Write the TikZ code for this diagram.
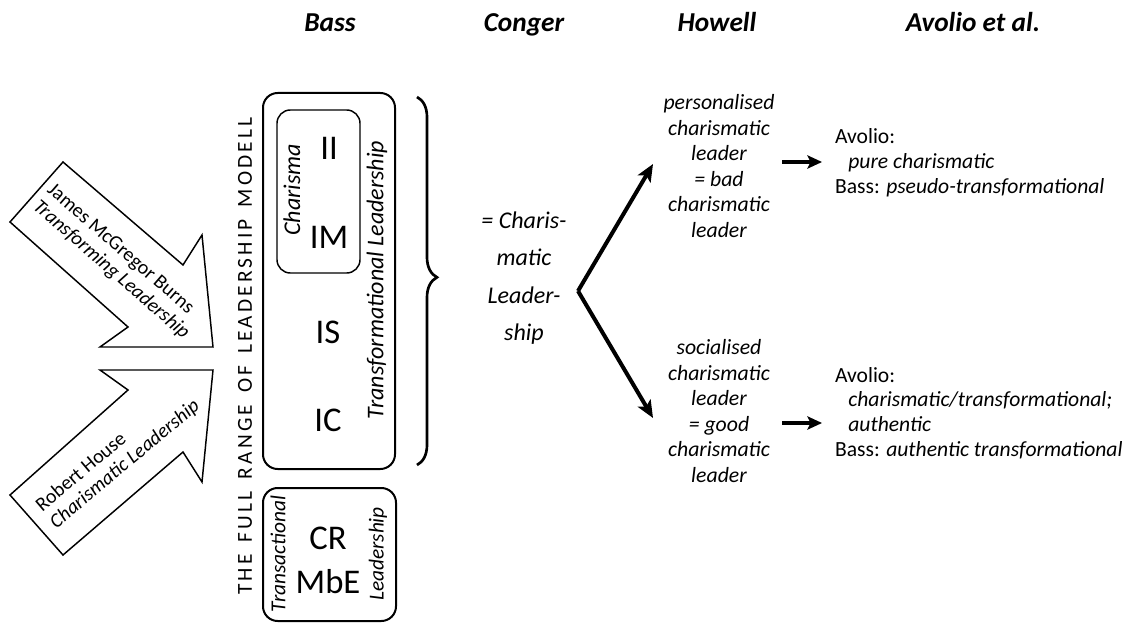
\documentclass[tikz,border=0pt]{standalone}
\usepackage{fontspec}
\setmainfont{Carlito}
\usetikzlibrary{arrows.meta,decorations.pathreplacing}
\begin{document}
\begin{tikzpicture}[x=0.75pt,y=-0.75pt,
  every node/.style={inner sep=0pt,outer sep=0pt},
  head/.style={font=\fontsize{20.5}{25}\selectfont\bfseries\itshape,anchor=base},
  bigl/.style={font=\fontsize{26}{30}\selectfont},
  rotl/.style={font=\fontsize{18}{20}\selectfont\itshape,rotate=90},
  rots/.style={font=\fontsize{16}{18}\selectfont\itshape,rotate=90},
  conger/.style={font=\fontsize{18}{28}\selectfont\itshape,align=center},
  howell/.style={font=\fontsize{16.3}{19.1}\selectfont\itshape,align=center},
  avolio/.style={font=\fontsize{16.2}{18.6}\selectfont,align=left},
  arrtxt/.style={font=\fontsize{15}{16.5}\selectfont,align=left},
  box/.style={draw,line width=1.5pt,rounded corners=11pt},
  innerbox/.style={draw,line width=1.1pt,rounded corners=10pt},
  blockarrow/.style={draw,line width=1.1pt,line join=miter},
  thickarrow/.style={line width=3pt,-{Stealth[length=13pt,width=11pt,inset=3pt]}},
  smallarrow/.style={line width=2.8pt,-{Stealth[length=11pt,width=10pt,inset=2.5pt]}},
  bracestyle/.style={line width=2pt,decorate,decoration={brace,amplitude=15pt,aspect=0.49}}
]
\useasboundingbox (0,0) rectangle (1127,623);

% headers
\node[head] (hBass) at (330,32) {Bass};
\node[head] (hConger) at (524,32) {Conger};
\node[head] (hHowell) at (717,32) {Howell};
\node[head] (hAvolio) at (973,32) {Avolio et al.};

% block arrows
\draw[blockarrow] (63,162) -- (183,265) -- (202,235) -- (213,347) -- (100,347) -- (128,327) -- (10,222) -- cycle;
\draw[blockarrow] (63,555) -- (183,452) -- (202,482) -- (213,370) -- (100,370) -- (128,390) -- (10,495) -- cycle;
\node[arrtxt,rotate=-41] (burns) at (118,262) {James McGregor Burns\\\textit{Transforming Leadership}};
\node[arrtxt,rotate=40] (house) at (118,456) {Robert House\\\textit{Charismatic Leadership}};

% title
\node[rotate=90,font={\fontsize{16}{16}\selectfont\addfontfeature{LetterSpace=15}}] (title) at (245,356)
  {THE\hspace{3pt} FULL\hspace{3pt} RANGE\hspace{3pt} OF\hspace{3pt} LEADERSHIP\hspace{3pt} MODELL};

% Bass boxes
\draw[box] (263,93) rectangle (395,469);
\draw[innerbox] (277,110) rectangle (360,273);
\draw[box] (263,488) rectangle (396,621);
\node[bigl] (II) at (329,148) {II};
\node[bigl] (IM) at (329,237) {IM};
\node[bigl] (IS) at (328,332) {IS};
\node[bigl] (IC) at (328,420) {IC};
\node[bigl] (CR) at (328,538) {CR};
\node[bigl] (MbE) at (328,582) {MbE};
\node[rotl] (charisma) at (292,190) {Charisma};
\node[rotl] (transf) at (377,280) {Transformational Leadership};
\node[rots] (transa) at (278,554) {Transactional};
\node[rots] (lead) at (378,554) {Leadership};

% brace
\coordinate (bt) at (417,97);
\coordinate (bb) at (417,465);
\draw[bracestyle] (bt) -- (bb);

% Conger
\node[conger] (cl) at (524,278) {= Charis-\\matic\\Leader-\\ship};

% Howell
\coordinate (v) at (578,291);
\coordinate (tu) at (653,164);
\coordinate (tl) at (653,418);
\draw[thickarrow] (v) -- (tu);
\draw[thickarrow] (v) -- (tl);
\node[howell] (pers) at (719,166) {personalised\\charismatic\\leader\\= bad\\charismatic\\leader};
\node[howell] (soc) at (719,411) {socialised\\charismatic\\leader\\= good\\charismatic\\leader};

% Avolio
\coordinate (a1s) at (782,162);
\coordinate (a1e) at (822,162);
\coordinate (a2s) at (782,423);
\coordinate (a2e) at (822,423);
\draw[smallarrow] (a1s) -- (a1e);
\draw[smallarrow] (a2s) -- (a2e);
\node[avolio,anchor=west] (av1) at (835,163) {Avolio:\\\hspace*{10pt}\textit{pure charismatic}\\Bass: \textit{pseudo-transformational}};
\node[avolio,anchor=west] (av2) at (835,413) {Avolio:\\\hspace*{10pt}\textit{charismatic/transformational;}\\\hspace*{10pt}\textit{authentic}\\Bass: \textit{authentic transformational}};
\end{tikzpicture}
\end{document}
